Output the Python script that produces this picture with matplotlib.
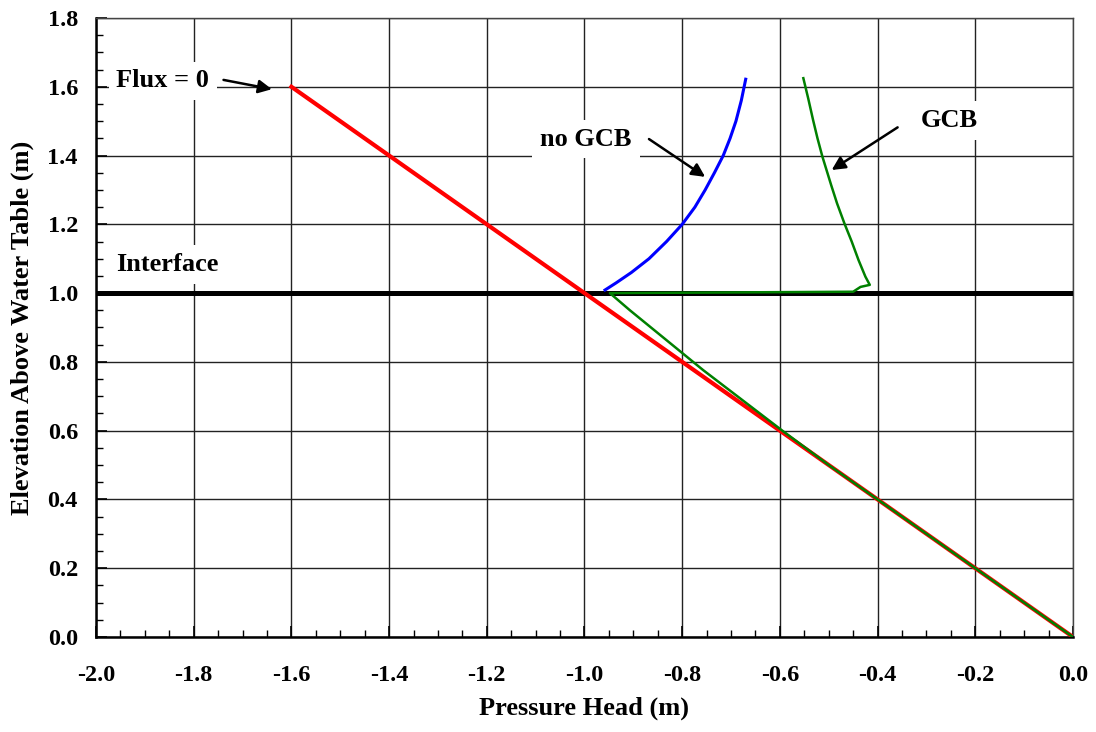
import matplotlib
matplotlib.use("Agg")
import matplotlib.pyplot as plt
from matplotlib.ticker import MultipleLocator, FormatStrFormatter

plt.rcParams['font.family'] = ['Liberation Serif', 'DejaVu Serif']
plt.rcParams['font.weight'] = 'bold'
plt.rcParams['axes.unicode_minus'] = False

# Hydrostatic profile (zero flux): pressure head = -elevation
flux0_head = [-1.6, 0.0]
flux0_elev = [1.6, 0.0]

# Profile without the capillary barrier
nogcb_head = [-0.958, -0.935, -0.904, -0.868, -0.832, -0.800, -0.774, -0.753,
              -0.734, -0.716, -0.702, -0.690, -0.679, -0.670]
nogcb_elev = [1.009, 1.030, 1.060, 1.100, 1.150, 1.200, 1.250, 1.300,
              1.350, 1.400, 1.450, 1.500, 1.560, 1.622]

# Profile with the capillary barrier (GCB)
gcb_head = [0.0, -0.40, -0.50, -0.595, -0.687, -0.757, -0.838, -0.907, -0.948,
            -0.45, -0.435, -0.416, -0.425, -0.439, -0.453, -0.468, -0.483,
            -0.495, -0.513, -0.523, -0.532, -0.542, -0.552]
gcb_elev = [0.0, 0.40, 0.50, 0.60, 0.70, 0.776, 0.87, 0.95, 1.0,
            1.004, 1.018, 1.024, 1.048, 1.096, 1.150, 1.203, 1.261,
            1.314, 1.397, 1.450, 1.503, 1.566, 1.625]

interface_elev = 1.0

fig = plt.figure(figsize=(10.96, 7.32), dpi=100)
ax = fig.add_axes([0.0876, 0.1298, 0.9790 - 0.0876, 0.9754 - 0.1298])

ax.set_xlim(-2.0, 0.0)
ax.set_ylim(0.0, 1.8)
ax.xaxis.set_major_locator(MultipleLocator(0.2))
ax.xaxis.set_minor_locator(MultipleLocator(0.05))
ax.yaxis.set_major_locator(MultipleLocator(0.2))
ax.yaxis.set_minor_locator(MultipleLocator(0.05))
ax.xaxis.set_major_formatter(FormatStrFormatter('%.1f'))
ax.yaxis.set_major_formatter(FormatStrFormatter('%.1f'))
ax.grid(True, which='major', color='#222222', lw=1.0)
ax.set_axisbelow(True)

ax.tick_params(which='both', direction='in', top=False, right=False)
ax.tick_params(which='major', length=8, width=1.2)
ax.tick_params(which='minor', length=5, width=1.0)
ax.tick_params(axis='x', which='major', pad=20, labelsize=17.5)
ax.tick_params(axis='y', which='major', pad=13, labelsize=17.5)
for lab in ax.get_xticklabels() + ax.get_yticklabels():
    lab.set_fontweight('bold')
for side in ['left', 'bottom']:
    ax.spines[side].set_linewidth(1.8)
for side in ['top', 'right']:
    ax.spines[side].set_linewidth(1.0)
    ax.spines[side].set_color('#444444')

ax.axhline(interface_elev, color='black', lw=3.6, zorder=3)
ax.plot(flux0_head, flux0_elev, color='red', lw=3.0, zorder=4)
ax.plot(nogcb_head, nogcb_elev, color='blue', lw=2.2, zorder=5)
ax.plot(gcb_head, gcb_elev, color='green', lw=1.8, zorder=5)

ax.set_xlabel('Pressure Head (m)', fontsize=19, fontweight='bold', labelpad=8)
ax.set_ylabel('Elevation Above Water Table (m)', fontsize=19, fontweight='bold', labelpad=10)

box = dict(boxstyle='square,pad=0.3', fc='white', ec='none')
arrow = dict(arrowstyle='-|>', color='black', lw=1.8, mutation_scale=20, shrinkA=0, shrinkB=0)

ax.text(-1.863, 1.617, 'Flux = 0', fontsize=19, fontweight='bold', ha='center', va='center', bbox=box, zorder=6)
ax.annotate('', xy=(-1.640, 1.593), xytext=(-1.739, 1.620), arrowprops=arrow, zorder=6)

ax.text(-0.997, 1.448, 'no GCB', fontsize=19, fontweight='bold', ha='center', va='center', bbox=box, zorder=6)
ax.annotate('', xy=(-0.753, 1.338), xytext=(-0.868, 1.448), arrowprops=arrow, zorder=6)

ax.text(-0.254, 1.503, 'GCB', fontsize=19, fontweight='bold', ha='center', va='center', bbox=box, zorder=6)
ax.annotate('', xy=(-0.494, 1.358), xytext=(-0.359, 1.482), arrowprops=arrow, zorder=6)

ax.text(-1.854, 1.082, 'Interface', fontsize=19, fontweight='bold', ha='center', va='center', bbox=box, zorder=6)

fig.savefig('out.png', dpi=100)
